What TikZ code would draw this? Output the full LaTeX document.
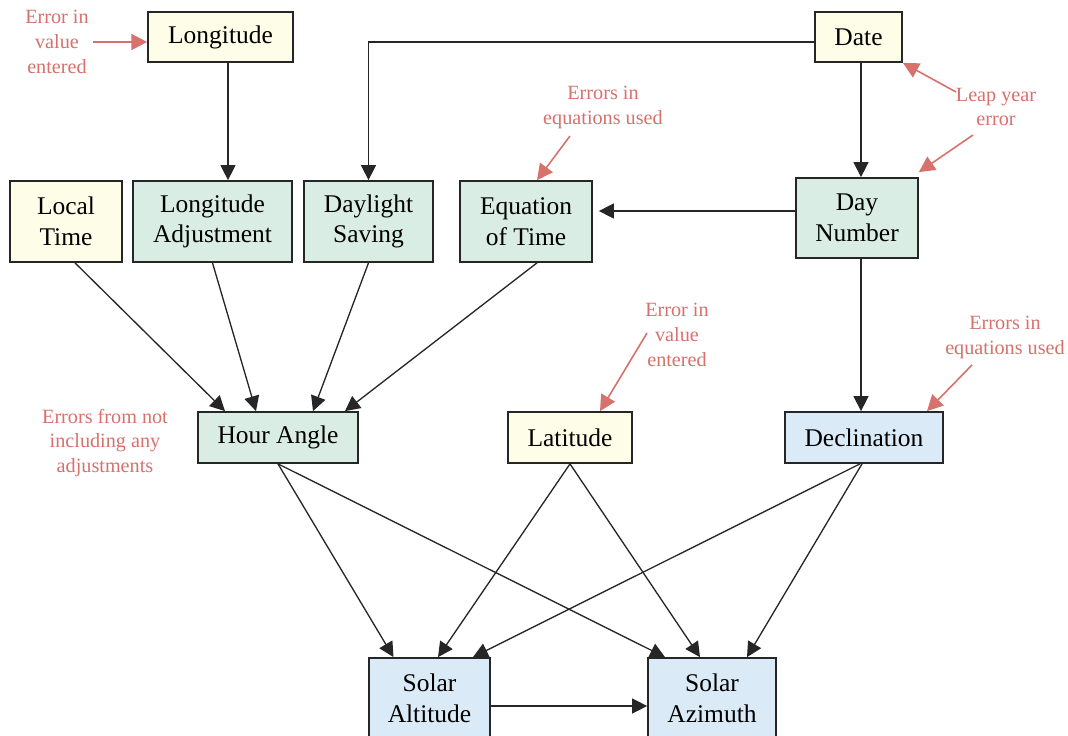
\documentclass[tikz,border=0pt]{standalone}
\usepackage{fontspec}
\setmainfont{Liberation Serif}
\usetikzlibrary{arrows.meta}
\definecolor{boxyellow}{HTML}{FDFDE8}
\definecolor{boxgreen}{HTML}{DAEDE5}
\definecolor{boxblue}{HTML}{DAEAF6}
\definecolor{errred}{HTML}{D6716C}
\tikzset{
  box/.style={draw=black!85, line width=1pt, align=center, inner sep=2pt,
    font=\fontsize{14.5}{17.5}\selectfont},
  ybox/.style={box, fill=boxyellow},
  gbox/.style={box, fill=boxgreen},
  bbox/.style={box, fill=boxblue},
  arr/.style={draw=black!85, line width=0.75pt, -{Triangle[length=8.5pt,width=8.5pt]}},
  errnote/.style={text=errred, align=center, inner sep=1pt,
    font=\fontsize{11.5}{14.2}\selectfont},
  errarr/.style={draw=errred, line width=0.9pt, -{Triangle[length=9pt,width=9pt]}},
}
\begin{document}
\begin{tikzpicture}[x=0.02cm,y=-0.02cm]
\useasboundingbox[fill=white] (0,0) rectangle (1068,736);

% input and intermediate quantities
\node[ybox, minimum width=2.9cm,  minimum height=1cm]    (lon)    at (220.5,37)    {Longitude};
\node[ybox, minimum width=1.74cm, minimum height=1cm]    (date)   at (858.5,37)    {Date};
\node[ybox, minimum width=2.24cm, minimum height=1.62cm] (local)  at (66,221.5)    {Local\\Time};
\node[gbox, minimum width=3.18cm, minimum height=1.62cm] (lonadj) at (212.5,221.5) {Longitude\\Adjustment};
\node[gbox, minimum width=2.58cm, minimum height=1.62cm] (dst)    at (368.5,221.5) {Daylight\\Saving};
\node[gbox, minimum width=2.64cm, minimum height=1.62cm] (eot)    at (526,221.5)   {Equation\\of Time};
\node[gbox, minimum width=2.44cm, minimum height=1.6cm]  (daynum) at (857,218)     {Day\\Number};
\node[gbox, minimum width=3.2cm,  minimum height=1.02cm] (hour)   at (278,437.5)   {Hour Angle};
\node[ybox, minimum width=2.48cm, minimum height=1.02cm] (lat)    at (570,437.5)   {Latitude};
\node[bbox, minimum width=3.16cm, minimum height=1.02cm] (decl)   at (864,437.5)   {Declination};
\node[bbox, minimum width=2.42cm, minimum height=1.62cm] (alt)    at (429.5,698.5) {Solar\\Altitude};
\node[bbox, minimum width=2.56cm, minimum height=1.62cm] (azi)    at (712,698.5)   {Solar\\Azimuth};

% dependencies
\draw[arr] ([xshift=0.15cm]lon.south) -- ([xshift=0.15cm]lon.south |- lonadj.north);
\draw[arr] ([yshift=-0.1cm]date.west) -| (dst.north);
\draw[arr] ([xshift=0.05cm]date.south) -- ([xshift=0.05cm]date.south |- daynum.north);
\draw[arr] ([yshift=0.14cm]daynum.west) -- ([yshift=0.14cm,xshift=0.12cm]daynum.west -| eot.east);
\draw[arr] ([xshift=0.08cm]daynum.south) -- ([xshift=0.08cm]daynum.south |- decl.north);

\draw[arr] ([xshift=0.18cm]local.south) -- ([xshift=-1.06cm]hour.north);
\draw[arr] (lonadj.south) -- ([xshift=-0.44cm]hour.north);
\draw[arr] (dst.south) -- ([xshift=0.7cm]hour.north);
\draw[arr] ([xshift=0.22cm]eot.south) -- ([xshift=1.34cm]hour.north);

\draw[arr] (hour.south) -- ([xshift=-0.72cm]alt.north);
\draw[arr] (hour.south) -- ([xshift=-0.94cm]azi.north);
\draw[arr] (lat.south) -- ([xshift=0.17cm]alt.north);
\draw[arr] (lat.south) -- ([xshift=-0.24cm]azi.north);
\draw[arr] ([xshift=-0.08cm]decl.south) -- ([xshift=0.87cm]alt.north);
\draw[arr] ([xshift=-0.04cm]decl.south) -- ([xshift=0.7cm]azi.north);

\draw[arr] ([yshift=-0.15cm]alt.east) -- ([yshift=-0.15cm]alt.east -| azi.west);

% error sources
\node[errnote] (e1) at (57,42) {Error in\\value\\entered};
\draw[errarr, line width=1.4pt] ([xshift=0.04cm]e1.east) -- (e1.east -| lon.west);

\node[errnote] (e2) at (603,107) {Errors in\\equations used};
\coordinate (e2s) at (570,136);
\draw[errarr] (e2s) -- ([xshift=0.22cm]eot.north);

\node[errnote] (e3) at (996,107) {Leap year\\error};
\coordinate (e3a) at (956,92);
\coordinate (e3b) at (973,135);
\draw[errarr] (e3a) -- (date.south east);
\draw[errarr] (e3b) -- ([yshift=0.1cm]daynum.north east);

\node[errnote] (e4) at (677,335) {Error in\\value\\entered};
\coordinate (e4s) at (647,333);
\draw[errarr] (e4s) -- ([xshift=0.6cm]lat.north);

\node[errnote] (e5) at (1005,337) {Errors in\\equations used};
\coordinate (e5s) at (972,365);
\draw[errarr] (e5s) -- ([xshift=1.26cm]decl.north);

\node[errnote] (e6) at (105,443) {Errors from not\\including any\\adjustments};
\end{tikzpicture}
\end{document}
